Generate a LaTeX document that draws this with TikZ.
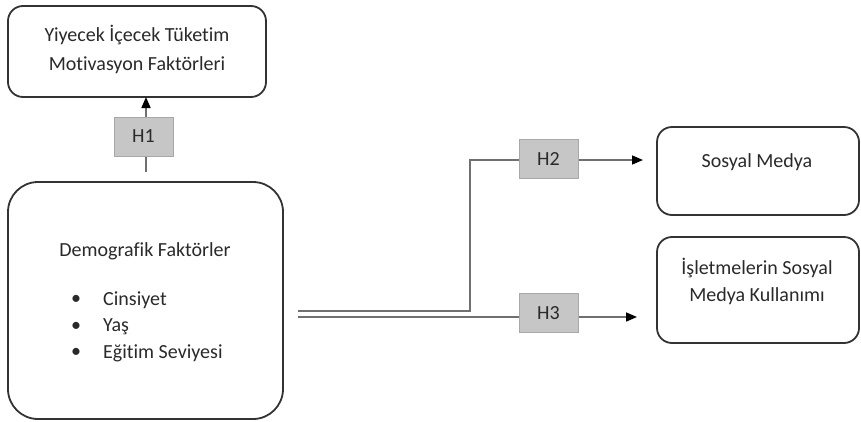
\documentclass[tikz,border=0pt]{standalone}
\usepackage{fontspec}
\setmainfont[Ligatures=NoCommon]{Carlito}
\usetikzlibrary{arrows.meta}
\definecolor{txt}{HTML}{2A2A2A}
\definecolor{edge}{HTML}{333333}
\definecolor{conn}{HTML}{707070}
\definecolor{hfill}{HTML}{C6C6C6}
\tikzset{
  box/.style={draw=edge, line width=1.8pt, fill=white},
  hbox/.style={fill=hfill, draw=hfill!85!black, line width=0.4pt, minimum width=59pt, minimum height=39pt, inner sep=0pt, font=\fontsize{20}{24}\selectfont, text=txt},
  lbl/.style={font=\fontsize{20}{29}\selectfont, text=txt, inner sep=0pt, align=center},
  conn/.style={draw=conn, line width=1.6pt},
  arr/.style={conn, -{Triangle[length=11pt,width=9pt,fill=black,color=black]}},
}
\begin{document}
\begin{tikzpicture}[x=1pt,y=-1pt]
\useasboundingbox (0,0) rectangle (861,421);
% boxes
\draw[box, rounded corners=15pt] (8,6) rectangle (266,97);
\node (top) at (137,51.5) [minimum width=258pt, minimum height=91pt, inner sep=0pt] {};
\node[lbl] (toptxt) at (137,49) {Yiyecek İçecek Tüketim\\Motivasyon Faktörleri};

\draw[box, rounded corners=30pt] (8,182) rectangle (283,419);
\node (demo) at (145.5,300.5) [minimum width=275pt, minimum height=237pt, inner sep=0pt] {};
\node[lbl] (demotitle) at (145,251) {Demografik Faktörler};
\node[lbl, anchor=west] (b1) at (103,300) {Cinsiyet};
\node[lbl, anchor=west] (b2) at (103,327) {Yaş};
\node[lbl, anchor=west] (b3) at (103,353) {Eğitim Seviyesi};
\node[lbl] (d1) at (76,300) {\textbullet};
\node[lbl] (d2) at (76,327) {\textbullet};
\node[lbl] (d3) at (76,353) {\textbullet};

\draw[box, rounded corners=15pt] (657,127) rectangle (859,215);
\node (sm) at (758,171) [minimum width=202pt, minimum height=88pt, inner sep=0pt] {};
\node[lbl] (smtxt) at (757,162) {Sosyal Medya};

\draw[box, rounded corners=15pt] (657,237) rectangle (859,343);
\node (ism) at (758,290) [minimum width=202pt, minimum height=106pt, inner sep=0pt] {};
\node[lbl, font=\fontsize{20}{27}\selectfont] (ismtxt) at (757,281) {İşletmelerin Sosyal\\Medya Kullanımı};

% connectors
\coordinate (h1start) at (146,172);
\coordinate (h1end) at (146,97);
\draw[arr] (h1start) -- (h1end);
\node[hbox] (h1) at (143.5,136.5) {H1};

\coordinate (s2) at (298,311);
\coordinate (bend) at (470,160);
\coordinate (e2) at (643,160);
\draw[arr] (s2) -| (bend) -- (e2);
\node[hbox] (h2) at (548.5,159) {H2};

\coordinate (s3) at (298,317);
\coordinate (e3) at (637,317);
\draw[arr] (s3) -- (e3);
\node[hbox] (h3) at (548.5,313) {H3};
\end{tikzpicture}
\end{document}
